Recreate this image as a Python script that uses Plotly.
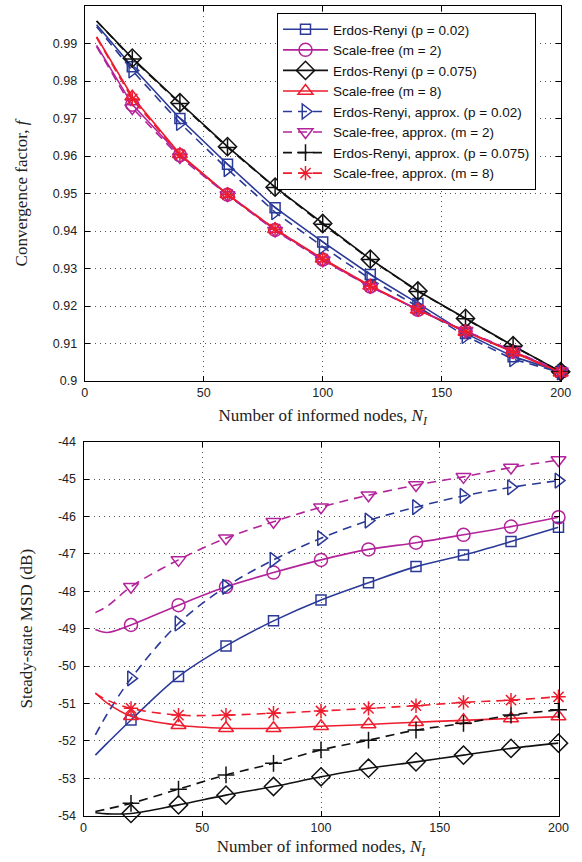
import plotly.graph_objects as go

# ---------------- data ----------------
TOP_X = [5, 20, 40, 60, 80, 100, 120, 140, 160, 180, 200]
top_er002 = [0.9950, 0.9838, 0.9700, 0.9578, 0.9462, 0.9371, 0.9284, 0.9207, 0.9127, 0.9065, 0.9025]
top_sf2 = [0.9895, 0.9737, 0.9602, 0.9497, 0.9403, 0.9324, 0.9252, 0.9190, 0.9133, 0.9078, 0.9025]
top_er0075 = [0.9960, 0.9861, 0.9742, 0.9625, 0.9517, 0.9420, 0.9325, 0.9240, 0.9167, 0.9094, 0.9025]
top_sf8 = [0.9918, 0.9758, 0.9605, 0.9498, 0.9405, 0.9326, 0.9254, 0.9190, 0.9131, 0.9076, 0.9022]
top_er002_apx = [0.9945, 0.9828, 0.9688, 0.9565, 0.9450, 0.9358, 0.9272, 0.9198, 0.9120, 0.9058, 0.9023]
top_sf2_apx = [0.9892, 0.9728, 0.9597, 0.9496, 0.9401, 0.9322, 0.9251, 0.9190, 0.9134, 0.9080, 0.9026]
top_er0075_apx = [0.9960, 0.9859, 0.9740, 0.9623, 0.9516, 0.9418, 0.9324, 0.9239, 0.9166, 0.9093, 0.9025]
top_sf8_apx = [0.9916, 0.9752, 0.9603, 0.9497, 0.9405, 0.9325, 0.9253, 0.9190, 0.9132, 0.9077, 0.9023]

BOT_X = [5, 10, 20, 40, 60, 80, 100, 120, 140, 160, 180, 200]
bot_er002 = [-52.38, -52.06, -51.44, -50.28, -49.46, -48.79, -48.23, -47.77, -47.34, -47.03, -46.67, -46.29]
bot_sf2 = [-49.02, -49.10, -48.90, -48.37, -47.88, -47.50, -47.16, -46.88, -46.70, -46.49, -46.27, -46.02]
bot_er0075 = [-53.92, -53.95, -53.94, -53.71, -53.45, -53.22, -52.96, -52.73, -52.56, -52.38, -52.20, -52.06]
bot_sf8 = [-50.72, -50.99, -51.34, -51.58, -51.66, -51.66, -51.61, -51.56, -51.50, -51.45, -51.40, -51.35]
bot_er002_apx = [-51.84, -51.28, -50.33, -48.86, -47.88, -47.16, -46.58, -46.11, -45.75, -45.45, -45.22, -45.04]
bot_sf2_apx = [-48.57, -48.40, -47.88, -47.16, -46.58, -46.14, -45.75, -45.43, -45.16, -44.94, -44.69, -44.49]
bot_er0075_apx = [-53.89, -53.82, -53.67, -53.29, -52.91, -52.60, -52.24, -51.98, -51.71, -51.53, -51.31, -51.17]
bot_sf8_apx = [-50.73, -50.91, -51.13, -51.31, -51.31, -51.26, -51.20, -51.13, -51.06, -50.97, -50.91, -50.82]

NAMES = [
    "Erdos-Renyi (p = 0.02)",
    "Scale-free (m = 2)",
    "Erdos-Renyi (p = 0.075)",
    "Scale-free (m = 8)",
    "Erdos-Renyi, approx. (p = 0.02)",
    "Scale-free, approx. (m = 2)",
    "Erdos-Renyi, approx. (p = 0.075)",
    "Scale-free, approx. (m = 8)",
]

TOP_YTICKS = [0.9, 0.91, 0.92, 0.93, 0.94, 0.95, 0.96, 0.97, 0.98, 0.99, 1.0]
TOP_YTEXT = ["0.9", "0.91", "0.92", "0.93", "0.94", "0.95", "0.96", "0.97", "0.98", "0.99", "1"]
BOT_YTICKS = [-54, -53, -52, -51, -50, -49, -48, -47, -46, -45, -44]
BOT_YTEXT = ["-54", "-53", "-52", "-51", "-50", "-49", "-48", "-47", "-46", "-45", "-44"]
XTICKS = [0, 50, 100, 150, 200]

# ---------------- styles ----------------
BLUE = "#2b3a98"
MAGENTA = "#b3239a"
BLACK = "#111111"
RED = "#ee1d2e"
DASH = "9px,6px"

styles = [
    dict(color=BLUE, symbol="square-open", dash="solid", size=10),
    dict(color=MAGENTA, symbol="circle-open", dash="solid", size=13),
    dict(color=BLACK, symbol="diamond-open", dash="solid", size=14),
    dict(color=RED, symbol="triangle-up-open", dash="solid", size=13),
    dict(color=BLUE, symbol="triangle-right-open", dash=DASH, size=13),
    dict(color=MAGENTA, symbol="triangle-down-open", dash=DASH, size=13),
    dict(color=BLACK, symbol="cross-thin-open", dash=DASH, size=12),
    dict(color=RED, symbol="asterisk-open", dash=DASH, size=12),
]

top_series = [top_er002, top_sf2, top_er0075, top_sf8,
              top_er002_apx, top_sf2_apx, top_er0075_apx, top_sf8_apx]
bot_series = [bot_er002, bot_sf2, bot_er0075, bot_sf8,
              bot_er002_apx, bot_sf2_apx, bot_er0075_apx, bot_sf8_apx]

fig = go.Figure()


def add_series(xs, ys, st, xa, ya, shape, first_mark):
    fig.add_trace(go.Scatter(
        x=xs, y=ys, mode="lines", xaxis=xa, yaxis=ya, showlegend=False,
        line=dict(color=st["color"], width=1.6, dash=st["dash"], shape=shape),
        hoverinfo="skip", cliponaxis=False))
    fig.add_trace(go.Scatter(
        x=xs[first_mark:], y=ys[first_mark:], mode="markers", xaxis=xa, yaxis=ya,
        showlegend=False, cliponaxis=False,
        marker=dict(symbol=st["symbol"], size=st["size"], color=st["color"],
                    line=dict(color=st["color"], width=1.5))))


for ys, st in zip(top_series, styles):
    add_series(TOP_X, ys, st, "x", "y", "linear", 1)
for ys, st in zip(bot_series, styles):
    add_series(BOT_X, ys, st, "x2", "y2", "spline", 2)

# legend-only entries
for name, st in zip(NAMES, styles):
    fig.add_trace(go.Scatter(
        x=[None], y=[None], mode="lines+markers", name=name, xaxis="x", yaxis="y",
        line=dict(color=st["color"], width=1.6, dash=st["dash"]),
        marker=dict(symbol=st["symbol"], size=st["size"], color=st["color"],
                    line=dict(color=st["color"], width=1.5))))

TICKFONT = dict(family="Liberation Sans, Arial, sans-serif", size=12.5, color="#222")
TITLEFONT = dict(family="Liberation Serif, Times New Roman, serif", size=17, color="#222")

axis_common = dict(
    showline=True, linecolor="black", linewidth=1, mirror="ticks",
    ticks="inside", ticklen=5, tickcolor="black", tickwidth=1,
    showgrid=True, gridcolor="#555", gridwidth=1, griddash="1px,4px",
    zeroline=False, automargin=False, tickfont=TICKFONT,
)

W, H = 582, 862
top_dom_y = [(H - 381) / H, (H - 6) / H]
bot_dom_y = [(H - 815.7) / H, (H - 441.7) / H]
top_dom_x = [84.7 / W, 560.7 / W]
bot_dom_x = [83.5 / W, 558.5 / W]

fig.update_layout(
    width=W, height=H,
    margin=dict(l=0, r=0, t=0, b=0),
    paper_bgcolor="white", plot_bgcolor="white",
    showlegend=True,
    legend=dict(
        x=277 / W, y=1 - 13 / H, xanchor="left", yanchor="top",
        bgcolor="white", bordercolor="black", borderwidth=1,
        font=dict(family="Liberation Sans, Arial, sans-serif", size=13.5, color="#111"),
        itemwidth=45, tracegroupgap=0,
    ),
    xaxis=dict(axis_common, domain=top_dom_x, anchor="y", range=[0, 200],
               tickvals=XTICKS, ticktext=[str(v) for v in XTICKS],
               title=dict(text="Number of informed nodes, <i>N</i><sub><i>I</i></sub>",
                          font=TITLEFONT, standoff=10)),
    yaxis=dict(axis_common, domain=top_dom_y, anchor="x", range=[0.9, 1.0],
               tickvals=TOP_YTICKS, ticktext=TOP_YTEXT, ticklabelstandoff=4,
               title=dict(text="Convergence factor, <i>f</i>", font=TITLEFONT, standoff=20)),
    xaxis2=dict(axis_common, domain=bot_dom_x, anchor="y2", range=[0, 200],
                tickvals=XTICKS, ticktext=[str(v) for v in XTICKS],
                title=dict(text="Number of informed nodes, <i>N</i><sub><i>I</i></sub>",
                           font=TITLEFONT, standoff=6)),
    yaxis2=dict(axis_common, domain=bot_dom_y, anchor="x2", range=[-54, -44],
                tickvals=BOT_YTICKS, ticktext=BOT_YTEXT, ticklabelstandoff=4,
                title=dict(text="Steady-state MSD (dB)", font=TITLEFONT, standoff=20)),
)

fig.write_html("out.html")
